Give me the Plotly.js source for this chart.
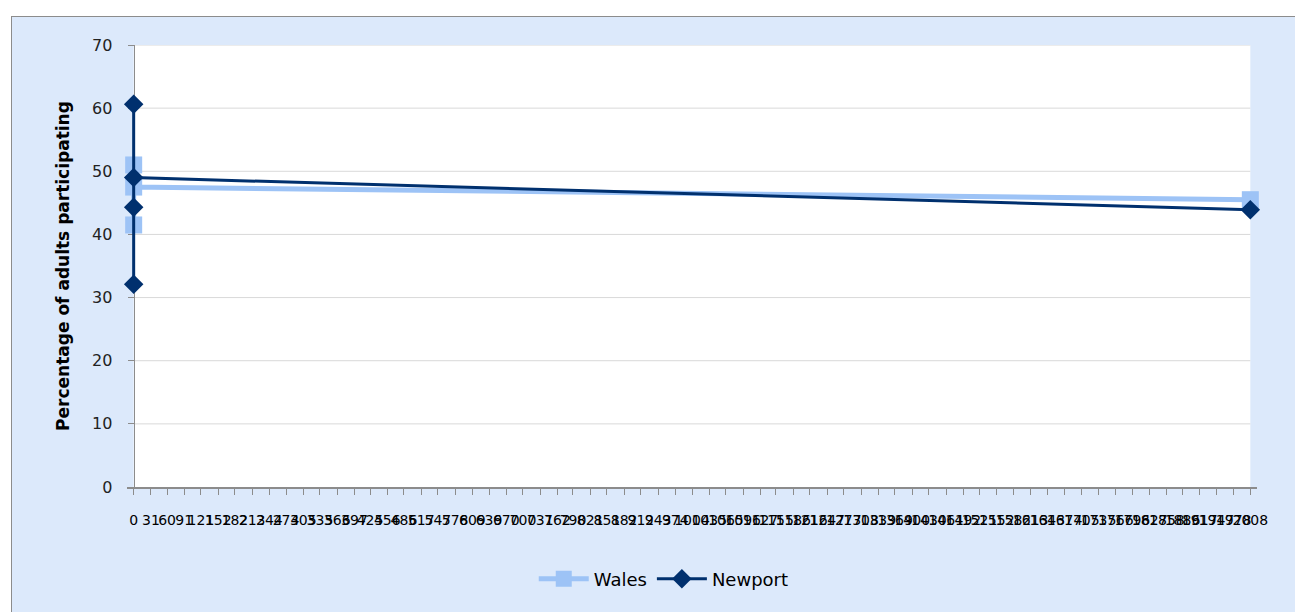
<!DOCTYPE html>
<html>
<head>
<meta charset="utf-8">
<script src="https://cdn.plot.ly/plotly-3.0.1.min.js"></script>
<style>
html,body{margin:0;padding:0;overflow:hidden;background:#ffffff;width:1295px;height:612px;}
#wrap{position:absolute;left:11px;top:16px;width:1290px;height:600px;border:1px solid #8c8c8c;background:#dce9fb;}
#chart{width:1290px;height:600px;}
</style>
</head>
<body>
<div id="wrap"><div id="chart"></div></div>
<script>
// x positions: text categories fall at 0 on Excel's date axis, last category is 2008
var walesX = [0, 0, 0, 2008];
var walesY = [41.5, 51.0, 47.5, 45.5];
var newportX = [0, 0, 0, 0, 2008];
var newportY = [32.1, 60.6, 44.3, 49.0, 43.9];

// Excel date-axis tick labels (month ends, shown as serial numbers)
var xTickVals = [0,31,60,91,121,152,182,213,244,274,305,335,366,397,425,456,486,517,547,578,609,639,670,700,731,762,790,821,851,882,912,943,974,1004,1035,1065,1096,1127,1155,1186,1216,1247,1277,1308,1339,1369,1400,1430,1461,1492,1521,1552,1582,1613,1643,1674,1705,1735,1766,1796,1827,1858,1886,1917,1947,1978,2008];
var xTickText = xTickVals.map(String);
var yTickVals = [0,10,20,30,40,50,60,70];
var xMin = 0, xMax = 2008, yMin = 0, yMax = 70;
var xPad = 12; // small padding so the line on x = 0 is not clipped

var traces = [
  {x: walesX, y: walesY, name: 'Wales', type: 'scatter', mode: 'lines+markers', cliponaxis: false,
   line: {color: '#9dc3f6', width: 5},
   marker: {symbol: 'square', size: 17, color: '#9dc3f6'}},
  {x: newportX, y: newportY, name: 'Newport', type: 'scatter', mode: 'lines+markers', cliponaxis: false,
   line: {color: '#00306e', width: 3},
   marker: {symbol: 'diamond', size: 15, color: '#00306e'}}
];

var shapes = [{type: 'rect', xref: 'x', yref: 'y', x0: xMin, x1: xMax, y0: yMin, y1: yMax,
               fillcolor: '#ffffff', line: {width: 0}, layer: 'below'}];
yTickVals.forEach(function (v) {
  if (v === yMin) return;
  shapes.push({type: 'line', xref: 'x', yref: 'y', x0: xMin, x1: xMax, y0: v, y1: v,
               line: {color: '#d9d9d9', width: 1}, layer: 'below'});
});

var layout = {
  width: 1290, height: 600,
  margin: {l: 115.3, r: 45.4, t: 28, b: 130, pad: 0},
  paper_bgcolor: 'rgba(0,0,0,0)',
  plot_bgcolor: 'rgba(0,0,0,0)',
  font: {family: 'DejaVu Sans, Verdana, sans-serif', color: '#000000', size: 15},
  showlegend: true,
  legend: {orientation: 'h', x: 0.475, xanchor: 'center', y: -0.208, yanchor: 'middle',
           itemwidth: 50, font: {size: 18, color: '#000000'}, bgcolor: 'rgba(0,0,0,0)'},
  shapes: shapes,
  xaxis: {
    range: [xMin - xPad, xMax + xPad], tickmode: 'array', tickvals: xTickVals, ticktext: xTickText,
    tickangle: 0, ticks: 'outside', ticklen: 6, tickcolor: '#8c8c8c', tickwidth: 1,
    ticklabelstandoff: 14, layer: 'below traces',
    showline: true, linecolor: '#8c8c8c', linewidth: 1.5, showgrid: false, zeroline: false,
    tickfont: {size: 14, color: '#000000'}
  },
  yaxis: {
    range: [yMin, yMax], tickmode: 'array', tickvals: yTickVals,
    anchor: 'free', position: xPad / (xMax - xMin + 2 * xPad), layer: 'below traces',
    ticks: 'outside', ticklen: 6, tickcolor: '#8c8c8c', ticklabelstandoff: 12,
    showline: true, linecolor: '#8c8c8c', linewidth: 1.5,
    showgrid: false, zeroline: false,
    tickfont: {size: 16, color: '#222222'},
    title: {text: 'Percentage of adults participating', standoff: 16,
            font: {size: 17, color: '#000000', family: 'DejaVu Sans, Verdana, sans-serif', weight: 'bold'}}
  }
};

Plotly.newPlot('chart', traces, layout, {displayModeBar: false, staticPlot: true});
</script>
</body>
</html>
